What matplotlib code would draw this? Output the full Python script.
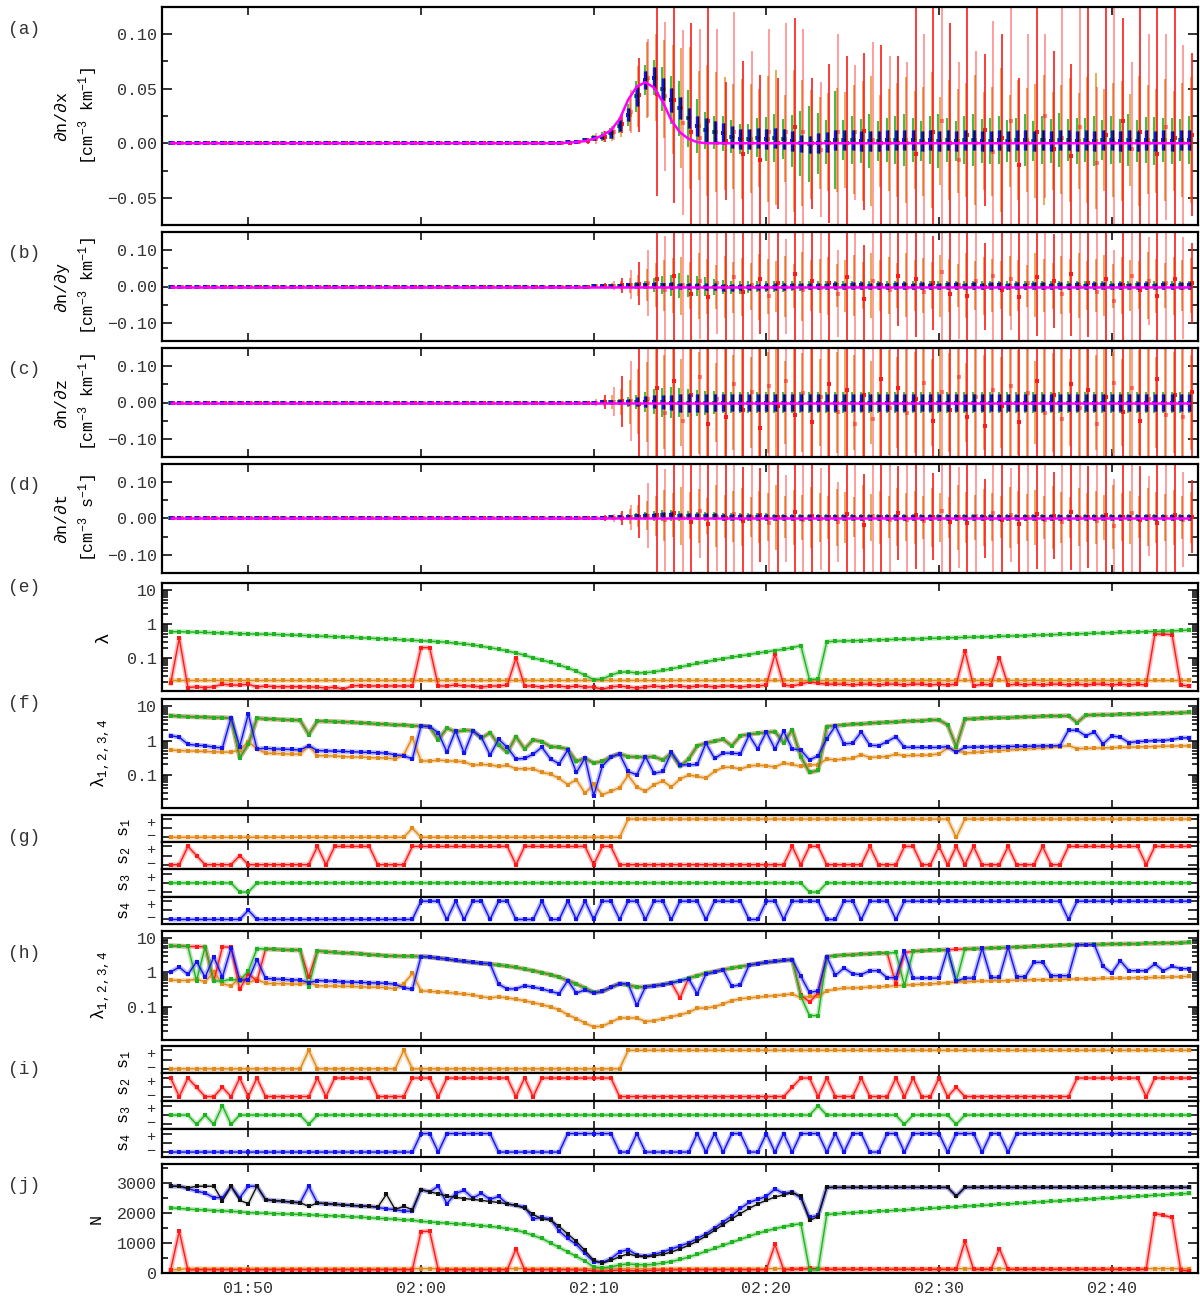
import numpy as np
import matplotlib
matplotlib.use("Agg")
import matplotlib.pyplot as plt
import matplotlib.dates as mdates
from matplotlib.ticker import MultipleLocator, FixedLocator, FuncFormatter, LogLocator, NullFormatter

plt.rcParams["font.family"] = ["Liberation Mono", "DejaVu Sans Mono"]
plt.rcParams["mathtext.fontset"] = "custom"
plt.rcParams["mathtext.rm"] = "Liberation Mono"
plt.rcParams["mathtext.it"] = "Liberation Mono"
plt.rcParams["mathtext.bf"] = "Liberation Mono"
plt.rcParams["font.size"] = 12
plt.rcParams["text.color"] = "#222222"

RED = "#ff1a1a"
ORANGE = "#e08a1a"
GREEN = "#1fb31f"
BLUE = "#1414f0"
BLACK = "#111111"
MAGENTA = "#ff00ff"

# ---- time grid: one sample every 30 s from 01:45:30 ----
t_first = np.datetime64("2000-01-01T01:45:30")
n_pts = 119
times = t_first + np.arange(n_pts) * np.timedelta64(30, "s")
t_lo = np.datetime64("2000-01-01T01:45:00")
t_hi = np.datetime64("2000-01-01T02:45:00")
i_win = 46          # derivative error bars are non-zero from this sample on

# ---- (a)-(d) derivative estimates, samples 46..118, units of 1e-3 ----
dndx_true = [0.5, 1, 2, 4, 7, 12, 22, 40, 52, 56, 51, 38, 21, 10, 4, 1] + [0] * 57
dndx_blue = [1, 1.5, 3, 5, 6, 9, 16, 26, 43, 58,
             60, 50, 40, 32, 23, 16, 12, 10, 9, 6,
             4, 4, 5, 4, 5, 4, 2, 0, -1, 0,
             1, 3, 3, 3, 2, 2, 2, 3, 3, 3,
             3, 2, 3, 2, 3, 2, 3, 3, 2, 2,
             3, 2, 3, 3, 2, 3, 2, 3, 3, 2,
             3, 2, 3, 3, 2, 3, 2, 3, 2, 3,
             2, 3, 3]
dndx_blue_err = [0.5, 0.8, 1.2, 2, 2.5, 4, 5, 6, 9, 8,
                 10, 10, 11, 10, 9, 9, 11, 10, 10, 10,
                 9, 9, 9, 9, 9, 9, 9, 8, 8, 9,
                 9, 9, 9, 9, 9, 9, 9, 9, 9, 9] + [9] * 33
dndx_green_err = [0.5, 1, 2, 3, 4, 5, 7, 10, 14, 14,
                  16, 20, 22, 25, 26, 25, 17, 15, 16, 15,
                  14, 14, 18, 20, 22, 18, 24, 30, 35, 28,
                  20, 45, 18, 22, 20, 25, 18, 20, 22, 24,
                  20, 18, 22, 25, 20, 18, 22, 24, 20, 21,
                  22, 19, 20, 24, 18, 22, 20, 25, 19, 21,
                  20, 23, 18, 22, 20, 24, 19, 21, 22, 20,
                  21, 19, 22]
dndx_orange_err = [0.5, 1, 2, 3, 5, 7, 10, 15, 28, 35,
                   40, 45, 50, 55, 65, 50, 60, 55, 52, 48,
                   55, 50, 45, 58, 62, 40, 65, 58, 50, 42,
                   45, 48, 44, 50, 55, 60, 42, 47, 52, 58,
                   45, 50, 62, 40, 55, 48, 52, 60, 45, 50,
                   66, 42, 55, 48, 52, 60, 45, 50, 57, 44,
                   58, 62, 47, 52, 55, 42, 60, 50, 48, 56,
                   46, 52, 58]
dndx_red = [0, 1, 2, 4, 6, 10, 18, 29, 44, 60,
            45, 43, 40, 19, 10, 5, 20, 0, 2, 10,
            -10, 0, -15, 10, 0, 10, 15, 10, 0, -6,
            0, 10, 0, 10, 11, 3, 0, 0, 0, 0,
            -10, 0, 10, 20, 0, -15, 8, 0, 12, -8,
            5, 20, -20, 0, 10, 25, -5, 5, -12, 15,
            0, -18, 8, 0, 20, -5, 10, 0, -10, 15,
            5, 0, 8]
dndx_red_err = [1, 1.5, 3, 5, 5, 7, 9, 20, 34, 36,
                93, 68, 95, 85, 100, 100, 150, 105, 54, 110,
                85, 85, 78, 95, 60, 100, 100, 95, 60, 62,
                73, 90, 80, 62, 72, 90, 90, 80, 80, 75,
                150, 100, 120, 150, 110, 90, 140, 85, 70, 120,
                95, 150, 80, 100, 130, 75, 90, 150, 85, 110,
                150, 70, 120, 150, 95, 80, 150, 100, 150, 85,
                120, 90, 75]

dndy_true = [0] * 73
dndy_blue = [0, 0, 0, 1, 1, 2, 2, 3, 3, 4,
             4, 3, 3, 2, 2, 1, 0, -1, -2, -2,
             -2, -1, -1, 0, 0, 0, 1, 1, 2, 2,
             2, 3, 2, 3, 3, 2, 3, 2, 3, 3,
             2, 3, 2, 2, 3, 3, 2, 3, 2, 3,
             3, 2, 3, 2, 3, 3, 2, 3, 2, 3,
             2, 3, 3, 2, 3, 2, 3, 3, 2, 3,
             2, 3, 3]
dndy_blue_err = [0.5, 0.5, 1, 1.5, 2, 3, 4, 5, 6, 7,
                 8, 8, 9, 9, 9, 9, 10, 10, 10, 10] + [9] * 53
dndy_green_err = [0.5, 1, 1.5, 2, 3, 4, 6, 8, 10, 12,
                  20, 25, 30, 35, 30, 28, 25, 22, 20, 18,
                  18, 16, 15, 15, 14, 14, 13, 13, 13, 13] + [12] * 43
dndy_orange_err = [1, 1, 2, 3, 5, 8, 12, 20, 30, 45,
                   60, 70, 75, 80, 65, 90, 75, 60, 85, 70,
                   80, 65, 90, 75, 70, 85, 60, 95, 70, 75,
                   80, 60, 72, 85, 65, 90, 70, 78, 62, 88,
                   70, 75, 65, 85, 72, 60, 90, 68, 80, 74,
                   66, 82, 70, 58, 88, 72, 64, 80, 75, 90,
                   68, 72, 85, 60, 78, 70, 66, 92, 74, 62,
                   80, 70, 75]
dndy_red = [0, 0, 0, 1, 1, 2, 3, 5, 8, 10,
            20, -10, 30, 5, -20, 15, -30, 10, 0, 25,
            -15, 5, 20, -25, 10, 0, 35, -10, 15, -5,
            10, -20, 25, 0, -35, 15, 5, -10, 30, -5,
            20, -15, 10, 40, -20, 5, -25, 15, 0, 30,
            -10, 20, -30, 10, 25, -5, 15, -20, 35, 0,
            10, -15, 20, -40, 5, 30, -10, 15, -25, 10,
            20, -5, 10]
dndy_red_err = [1, 2, 3, 5, 8, 12, 20, 40, 60, 90,
                200, 150, 250, 180, 300, 160, 220, 140, 260, 190,
                170, 230, 150, 280, 200, 130, 240, 180, 210, 160,
                250, 120, 190, 270, 150, 220, 175, 300, 140, 200,
                160, 240, 130, 210, 280, 150, 190, 230, 120, 260,
                180, 140, 250, 200, 160, 290, 130, 220, 170, 240,
                150, 210, 280, 140, 190, 230, 160, 120, 260, 180,
                200, 140, 110]

dndz_true = [0] * 73
dndz_blue = [0, 0, 0, 0, 1, 1, 1, 2, 2, 2,
             2, 1, 0, -1, -2, -2, -1, 0, 0, 0] + [0] * 53
dndz_blue_err = [0.5, 1, 1.5, 2, 3, 4, 6, 9, 12, 15,
                 18, 20, 22, 24, 25, 25, 24, 24, 24, 24] + [23] * 53
dndz_green_err = [0.5, 1, 2, 3, 4, 6, 9, 14, 20, 28,
                  35, 40, 42, 40, 38, 36, 34, 32, 30, 30] + [28] * 53
dndz_orange_err = [1, 2, 3, 5, 10, 20, 35, 60, 90, 110,
                   150, 130, 170, 120, 160, 140, 180, 110, 150, 130,
                   170, 125, 160, 140, 190, 115, 150, 135, 175, 120,
                   160, 140, 180, 130, 155, 115, 170, 145, 125, 165,
                   140, 185, 120, 160, 135, 175, 110, 150, 130, 170,
                   125, 160, 145, 180, 115, 155, 135, 170, 120, 150,
                   165, 130, 175, 140, 120, 160, 145, 185, 125, 155,
                   140, 170, 130]
dndz_red = [0, 0, 0, 0, 1, 2, 3, 5, -5, 10,
            40, -30, 60, -50, 20, 70, -60, 10, -40, 50,
            -20, 30, -70, 45, -10, 60, -35, 25, -55, 15,
            50, -25, 35, -60, 20, -45, 65, -15, 40, -30,
            10, 55, -50, 30, -20, 70, -40, 15, -65, 35,
            -10, 45, -55, 25, 60, -30, 20, -45, 50, -15,
            35, -60, 15, 55, -25, 40, -50, 10, 65, -35,
            20, -40, 30]
dndz_red_err = [2, 3, 5, 10, 20, 40, 70, 110, 160, 200,
                300, 250, 350, 280, 320, 260, 340, 240, 300, 270,
                330, 250, 290, 360, 270, 310, 240, 350, 280, 300,
                260, 340, 290, 250, 370, 280, 310, 240, 330, 270,
                300, 260, 350, 280, 240, 320, 290, 360, 250, 310,
                270, 340, 260, 300, 280, 350, 240, 320, 290, 260,
                310, 280, 340, 250, 300, 270, 360, 240, 320, 290,
                260, 300, 280]

dndt_true = [0] * 73
dndt_blue = [0, 0, 1, 1, 2, 3, 4, 5, 6, 7,
             8, 9, 9, 8, 8, 7, 6, 6, 5, 5,
             5, 4, 4, 4, 3, 3, 3, 3, 3, 3] + [3] * 43
dndt_blue_err = [0.5, 0.5, 1, 1.5, 2, 3, 4, 5, 6, 7] + [8] * 63
dndt_green_err = [0.5, 1, 1.5, 2, 3, 4, 6, 8, 10, 12,
                  14, 15, 15, 14, 13, 12, 12, 11, 11, 11] + [10] * 53
dndt_orange_err = [1, 1, 2, 3, 5, 8, 12, 20, 30, 40,
                   55, 70, 60, 80, 65, 75, 50, 85, 60, 70,
                   80, 55, 72, 65, 90, 58, 75, 62, 85, 68,
                   60, 78, 70, 55, 88, 64, 72, 58, 80, 66,
                   74, 60, 82, 68, 56, 90, 70, 62, 78, 66,
                   58, 84, 72, 64, 76, 60, 86, 70, 56, 80,
                   68, 74, 62, 88, 66, 72, 58, 80, 70, 64,
                   76, 60, 70]
dndt_red = [0, 0, 0, 0, 1, 1, 2, 3, 5, 8,
            10, -5, 15, 0, -10, 20, -15, 5, 0, 12,
            -8, 3, 10, -12, 5, 0, 18, -5, 8, -2,
            5, -10, 12, 0, -18, 8, 3, -5, 15, -3,
            10, -8, 5, 20, -10, 3, -12, 8, 0, 15,
            -5, 10, -15, 5, 12, -3, 8, -10, 18, 0,
            5, -8, 10, -20, 3, 15, -5, 8, -12, 5,
            10, -3, 5]
dndt_red_err = [1, 2, 3, 5, 8, 12, 20, 35, 60, 90,
                180, 140, 220, 160, 250, 130, 200, 150, 230, 170,
                150, 210, 130, 240, 180, 120, 220, 160, 190, 140,
                230, 110, 170, 250, 140, 200, 160, 270, 130, 180,
                150, 220, 120, 190, 260, 140, 170, 210, 110, 240,
                160, 130, 230, 180, 150, 260, 120, 200, 160, 220,
                140, 190, 250, 130, 170, 210, 150, 110, 240, 160,
                180, 130, 100]

# ---- (e) eigenvalues lambda ----
e_green = [0.59, 0.59, 0.58, 0.57, 0.56, 0.55, 0.54, 0.53, 0.52, 0.51,
           0.50, 0.50, 0.49, 0.48, 0.47, 0.46, 0.45, 0.44, 0.43, 0.42,
           0.41, 0.40, 0.39, 0.38, 0.37, 0.36, 0.35, 0.34, 0.33, 0.32,
           0.31, 0.30, 0.29, 0.27, 0.26, 0.24, 0.22, 0.20, 0.18, 0.16,
           0.14, 0.12, 0.10, 0.087, 0.074, 0.062, 0.051, 0.041, 0.031, 0.023,
           0.024, 0.031, 0.038, 0.039, 0.036, 0.037, 0.039, 0.043, 0.048, 0.054,
           0.061, 0.069, 0.077, 0.086, 0.095, 0.105, 0.115, 0.125, 0.14, 0.15,
           0.165, 0.18, 0.20, 0.23, 0.023, 0.024, 0.30, 0.31, 0.315, 0.32,
           0.325, 0.33, 0.34, 0.345, 0.35, 0.355, 0.36, 0.37, 0.375, 0.38,
           0.39, 0.395, 0.40, 0.41, 0.415, 0.42, 0.43, 0.44, 0.445, 0.45,
           0.46, 0.47, 0.48, 0.49, 0.50, 0.51, 0.52, 0.53, 0.54, 0.55,
           0.56, 0.57, 0.58, 0.59, 0.60, 0.61, 0.62, 0.64, 0.66]
e_red = [0.018, 0.38, 0.0134, 0.0143, 0.0134, 0.0143, 0.017, 0.016, 0.016, 0.017,
         0.014, 0.015, 0.0143, 0.0143, 0.0143, 0.0143, 0.014, 0.014, 0.013, 0.014,
         0.012, 0.015, 0.0155, 0.015, 0.015, 0.015, 0.015, 0.015, 0.015, 0.2,
         0.2, 0.015, 0.015, 0.016, 0.015, 0.015, 0.014, 0.015, 0.015, 0.016,
         0.1, 0.015, 0.015, 0.014, 0.015, 0.015, 0.014, 0.015, 0.014, 0.014,
         0.012, 0.014, 0.015, 0.014, 0.013, 0.014, 0.015, 0.014, 0.015, 0.015,
         0.014, 0.015, 0.015, 0.014, 0.015, 0.015, 0.014, 0.015, 0.015, 0.016,
         0.13, 0.016, 0.015, 0.017, 0.02, 0.018, 0.017, 0.017, 0.017, 0.016,
         0.017, 0.017, 0.016, 0.017, 0.017, 0.016, 0.017, 0.017, 0.016, 0.017,
         0.016, 0.017, 0.16, 0.015, 0.017, 0.016, 0.10, 0.016, 0.017, 0.016,
         0.017, 0.016, 0.017, 0.017, 0.016, 0.017, 0.016, 0.017, 0.017, 0.016,
         0.017, 0.016, 0.017, 0.016, 0.5, 0.5, 0.48, 0.016, 0.015]
e_orange = [0.0225] * n_pts

# ---- (f) lambda_1..4, first method ----
f_green = [5.35, 5.1, 5.0, 4.9, 4.8, 4.7, 4.7, 4.5, 0.32, 0.78,
           4.5, 4.3, 4.2, 4.1, 4.0, 3.9, 1.5, 3.7, 3.65, 3.6,
           3.5, 3.4, 3.3, 3.2, 3.05, 3.0, 2.86, 2.86, 2.7, 2.67,
           2.56, 1.05, 2.3, 1.8, 2.0, 1.95, 1.17, 1.7, 0.75, 0.45,
           1.3, 0.57, 1.05, 0.93, 0.67, 0.64, 0.56, 0.245, 0.31, 0.22,
           0.245, 0.34, 0.41, 0.34, 0.33, 0.33, 0.34, 0.27, 0.43, 0.175,
           0.29, 0.70, 0.84, 0.96, 1.09, 0.70, 1.37, 1.53, 1.63, 1.75,
           1.83, 0.87, 2.04, 0.34, 0.117, 0.134, 2.56, 2.73, 2.86, 3.0,
           3.07, 3.2, 3.35, 3.4, 3.5, 3.66, 3.74, 3.8, 4.0, 4.0,
           2.86, 0.67, 4.27, 4.37, 4.47, 4.6, 4.67, 4.67, 4.78, 4.9,
           5.0, 5.1, 5.2, 5.2, 5.35, 3.35, 5.5, 5.6, 5.7, 5.7,
           5.85, 5.85, 6.0, 6.1, 6.25, 6.25, 6.4, 6.5, 6.7]
f_red = f_green
f_blue = [1.4, 1.25, 0.78, 0.73, 0.71, 0.64, 0.61, 4.7, 0.67, 6.0,
          0.57, 0.6, 0.57, 0.56, 0.55, 0.53, 0.71, 0.51, 0.50, 0.49,
          0.48, 0.47, 0.46, 0.45, 0.44, 0.43, 0.38, 0.36, 0.29, 2.67,
          2.56, 1.7, 0.46, 1.95, 0.43, 1.9, 1.25, 0.38, 1.09, 0.63,
          0.29, 0.30, 0.40, 0.64, 0.29, 0.21, 0.53, 0.117, 0.31, 0.0245,
          0.18, 0.33, 0.41, 0.125, 0.10, 0.34, 0.11, 0.125, 0.45, 0.195,
          0.195, 0.20, 0.84, 0.30, 0.43, 0.43, 0.41, 1.43, 0.57, 1.79,
          0.57, 1.87, 0.57, 0.53, 0.27, 0.36, 1.14, 2.67, 0.80, 0.84,
          1.79, 0.73, 0.71, 0.93, 1.3, 0.64, 0.63, 0.63, 0.63, 0.63,
          0.67, 0.45, 0.64, 0.64, 0.65, 0.65, 0.66, 0.67, 0.68, 0.68,
          0.69, 0.70, 0.70, 0.71, 2.0, 2.0, 1.37, 1.79, 0.80, 1.37,
          1.25, 0.87, 0.93, 0.96, 1.0, 1.0, 1.07, 1.2, 1.2]
f_orange = [0.53, 0.51, 0.50, 0.49, 0.48, 0.47, 0.46, 0.46, 0.53, 0.93,
            0.57, 0.43, 0.42, 0.41, 0.40, 0.40, 0.71, 0.365, 0.36, 0.35,
            0.34, 0.33, 0.33, 0.32, 0.31, 0.31, 0.29, 0.38, 1.22, 0.256,
            0.25, 0.27, 0.256, 0.25, 0.24, 0.19, 0.20, 0.195, 0.175, 0.19,
            0.15, 0.15, 0.15, 0.117, 0.105, 0.078, 0.052, 0.071, 0.029, 0.053,
            0.026, 0.033, 0.042, 0.096, 0.044, 0.033, 0.051, 0.066, 0.044, 0.075,
            0.098, 0.09, 0.08, 0.125, 0.164, 0.167, 0.146, 0.18, 0.19, 0.183,
            0.167, 0.22, 0.20, 0.175, 0.195, 0.195, 0.29, 0.27, 0.29, 0.30,
            0.39, 0.32, 0.33, 0.34, 0.40, 0.36, 0.37, 0.37, 0.38, 0.41,
            0.60, 0.53, 0.43, 0.45, 0.47, 0.49, 0.51, 0.53, 0.55, 0.57,
            0.59, 0.61, 0.63, 0.66, 0.72, 0.58, 0.59, 0.60, 0.61, 0.62,
            0.63, 0.64, 0.65, 0.66, 0.67, 0.68, 0.69, 0.70, 0.70]

# ---- (g) signs s1..s4, first method ('+' = 1, '0' = 0, '-' = -1) ----
g_s1 = "-" * 28 + "0" + "-" * 24 + "+" * 38 + "-" + "+" * 27
g_s2 = ("--+0----0-" "-------+-+" "++++----++" "++++++++++" "-++++++++-"
        "++--------" "----------" "--+-++----" "-+---++--+" "-+-+---+--"
        "-+--++++++" "+++-+++++")
g_s3 = "0" * 8 + "--" + "0" * 64 + "--" + "0" * 43
g_s4 = ("---------0" "----------" "---------+" "++-+-++-++" "---+--+-+-"
        "++-++-++-+" "++-++++--+" "+-++++--++" "-+++-+++++" "++++++++++"
        "++++-+++++" "+++++++++")

# ---- (h) lambda_1..4, second method ----
h_green = [6.0, 5.85, 5.7, 0.58, 5.6, 0.56, 0.56, 0.63, 0.58, 1.09,
           4.9, 4.8, 4.7, 4.6, 4.5, 4.5, 0.37, 4.2, 4.0, 3.8,
           3.7, 3.6, 3.5, 3.3, 3.2, 3.06, 3.0, 2.95, 2.93, 2.9,
           2.8, 2.6, 2.45, 2.24, 2.09, 1.96, 1.83, 1.75, 1.64, 1.53,
           1.4, 1.25, 1.12, 0.98, 0.86, 0.73, 0.58, 0.46, 0.35, 0.26,
           0.28, 0.367, 0.468, 0.43, 0.37, 0.38, 0.41, 0.44, 0.50, 0.57,
           0.68, 0.80, 0.955, 1.05, 1.2, 1.34, 1.46, 1.63, 1.79, 1.96,
           2.09, 2.24, 2.34, 0.2, 0.055, 0.055, 2.86, 3.06, 3.2, 3.27,
           3.4, 3.5, 3.6, 3.65, 3.8, 0.41, 4.1, 4.27, 4.37, 4.47,
           4.57, 0.55, 4.8, 4.9, 5.0, 5.1, 5.2, 5.35, 5.45, 5.6,
           5.7, 5.85, 6.0, 6.1, 6.25, 6.4, 6.4, 6.5, 6.5, 6.7,
           6.7, 6.8, 6.8, 7.0, 7.0, 7.1, 7.1, 7.3, 7.5]
# red coincides with green apart from these samples
h_red_dev = {3: 5.65, 5: 0.56, 6: 5.5, 7: 5.4, 8: 0.32, 9: 0.91, 10: 0.56,
             16: 0.73, 59: 0.18, 73: 0.22, 74: 0.137, 75: 0.25,
             84: 0.46, 85: 3.8, 91: 4.7}
h_blue = [1.02, 1.43, 0.87, 2.04, 0.73, 2.8, 0.73, 5.2, 0.6, 0.6,
          2.34, 0.67, 0.64, 0.63, 0.6, 0.6, 0.5, 0.58, 0.56, 0.55,
          0.53, 0.52, 0.51, 0.5, 0.49, 0.48, 0.45, 0.36, 0.32, 2.9,
          2.8, 2.6, 2.45, 2.24, 2.09, 1.96, 1.85, 1.8, 0.45, 0.33,
          0.33, 0.41, 0.37, 0.33, 0.28, 0.24, 0.58, 0.25, 0.31, 0.25,
          0.28, 0.367, 0.468, 0.46, 0.11, 0.38, 0.40, 0.44, 0.49, 0.57,
          0.65, 0.24, 0.89, 1.02, 1.2, 0.39, 0.44, 1.63, 1.79, 1.96,
          2.09, 2.24, 2.34, 0.76, 0.26, 0.29, 2.86, 0.82, 1.34, 0.91,
          0.86, 1.12, 1.12, 0.70, 0.70, 4.1, 0.68, 0.68, 0.68, 0.68,
          4.57, 0.55, 0.68, 0.68, 5.1, 0.71, 0.71, 5.45, 0.75, 0.75,
          1.96, 1.96, 0.8, 0.8, 0.8, 6.4, 6.4, 6.4, 1.5, 0.955,
          2.18, 1.12, 1.12, 1.12, 1.75, 1.12, 1.5, 1.28, 1.28]
h_orange = [0.6, 0.58, 0.58, 0.63, 0.53, 1.05, 0.47, 0.4, 0.7, 0.5,
            0.63, 0.48, 0.47, 0.47, 0.46, 0.45, 0.5, 0.41, 0.4, 0.4,
            0.39, 0.39, 0.38, 0.37, 0.37, 0.36, 0.33, 0.47, 0.93, 0.29,
            0.28, 0.27, 0.26, 0.245, 0.235, 0.22, 0.195, 0.18, 0.195, 0.18,
            0.165, 0.15, 0.13, 0.115, 0.098, 0.082, 0.058, 0.045, 0.033, 0.026,
            0.027, 0.035, 0.047, 0.047, 0.047, 0.037, 0.039, 0.045, 0.051, 0.058,
            0.068, 0.091, 0.091, 0.10, 0.12, 0.15, 0.17, 0.18, 0.19, 0.2,
            0.21, 0.22, 0.235, 0.18, 0.2, 0.2, 0.29, 0.32, 0.35, 0.35,
            0.36, 0.37, 0.38, 0.39, 0.41, 0.42, 0.44, 0.45, 0.46, 0.48,
            0.5, 0.53, 0.53, 0.55, 0.56, 0.57, 0.57, 0.58, 0.6, 0.6,
            0.61, 0.61, 0.62, 0.62, 0.64, 0.64, 0.65, 0.65, 0.67, 0.67,
            0.68, 0.68, 0.7, 0.7, 0.71, 0.71, 0.73, 0.75, 0.76]

# ---- (i) signs, second method ----
i_s1 = "-" * 16 + "+" + "-" * 10 + "+" + "-" * 25 + "+" * 66
i_s2 = ("+-+0--0-+-" "+------+-+" "++++----++" "+-++++++++" "-+-+++++++"
        "++--------" "----------" "--0++-+---" "+---+-+--+" "-0--------"
        "-----+++++" "+++-+++++")
i_s3 = ("000-0-+-00" "000000-000" + "0" * 50 + "00000+0000" "00000-0000"
        "0-00000000" + "0" * 19)
i_s4 = ("-" * 29 + "++-++++++--" "------++++" "++--+-----" "-+-+-++--+"
        "-+-+++-+-+" "+--++-++++" "-+++-++-++" + "+" * 19)

# ---- (j) N ----
j_black = [2890, 2890, 2830, 2890, 2890, 2890, 2400, 2890, 2420, 2310,
           2890, 2440, 2410, 2390, 2360, 2340, 2220, 2330, 2310, 2290,
           2270, 2250, 2230, 2220, 2200, 2620, 2120, 2220, 2110, 2780,
           2700, 2640, 2560, 2520, 2480, 2450, 2420, 2380, 2350, 2300,
           2250, 2150, 1950, 1800, 1760, 1550, 1300, 1050, 750, 420,
           330, 420, 540, 640, 560, 540, 570, 620, 700, 800,
           920, 1060, 1230, 1420, 1610, 1800, 1980, 2150, 2300, 2420,
           2530, 2600, 2680, 2550, 1750, 1880] + [2850] * 15 + [2560] + [2850] * 27
j_blue = [2890, 2890, 2810, 2730, 2660, 2510, 2510, 2890, 2510, 2890,
          2890, 2440, 2410, 2390, 2360, 2340, 2890, 2330, 2310, 2290,
          2270, 2250, 2230, 2220, 2180, 2140, 2110, 2060, 2060, 2780,
          2700, 2890, 2310, 2650, 2750, 2500, 2650, 2450, 2550, 2300,
          2250, 2200, 1800, 1850, 1800, 1400, 1150, 950, 650, 380,
          350, 480, 700, 780, 600, 560, 620, 700, 800, 900,
          1000, 1150, 1300, 1500, 1700, 1900, 2150, 2350, 2450, 2550,
          2800, 2650, 2700, 2500, 1850, 1920] + [2850] * 15 + [2560] + [2850] * 27
j_green = [2170, 2150, 2130, 2110, 2100, 2080, 2070, 2050, 2040, 2010,
           2000, 1990, 1980, 1970, 1960, 1950, 1940, 1920, 1910, 1900,
           1890, 1870, 1860, 1840, 1820, 1810, 1790, 1770, 1760, 1720,
           1700, 1680, 1660, 1640, 1620, 1600, 1580, 1550, 1520, 1480,
           1430, 1350, 1250, 1150, 1000, 850, 700, 550, 400, 200,
           170, 200, 270, 300, 280, 270, 290, 330, 380, 450,
           530, 620, 720, 820, 920, 1020, 1120, 1220, 1320, 1400,
           1480, 1540, 1600, 1640, 100, 120, 1950, 1970, 1990, 2010,
           2020, 2040, 2060, 2070, 2090, 2100, 2120, 2140, 2150, 2170,
           2190, 2200, 2220, 2240, 2250, 2270, 2290, 2300, 2320, 2340,
           2350, 2370, 2390, 2400, 2420, 2440, 2450, 2470, 2490, 2500,
           2520, 2540, 2550, 2570, 2590, 2600, 2620, 2640, 2650]
j_red = [100, 1390, 100, 110, 110, 110, 110, 110, 110, 110,
         110, 110, 110, 110, 110, 110, 110, 110, 110, 110,
         110, 110, 110, 110, 110, 110, 110, 110, 110, 1380,
         1390, 110, 110, 110, 110, 110, 110, 110, 110, 110,
         800, 110, 110, 110, 110, 110, 110, 100, 100, 70,
         60, 80, 90, 80, 70, 80, 90, 100, 100, 110,
         110, 110, 110, 110, 110, 110, 110, 110, 110, 110,
         950, 110, 120, 130, 150, 140, 120, 120, 120, 120,
         120, 120, 120, 120, 120, 120, 120, 120, 120, 120,
         120, 120, 1050, 120, 120, 120, 800, 120, 120, 120,
         120, 120, 120, 120, 120, 120, 120, 120, 120, 120,
         120, 120, 120, 120, 1980, 1920, 1850, 100, 60]
j_orange = [100, 120] + [145] * 117

panel_letters = ["(a)", "(b)", "(c)", "(d)", "(e)", "(f)", "(g)", "(h)", "(i)", "(j)"]
letter_y_px = [29, 253, 369, 486, 587, 703, 837, 953, 1069, 1185]

SIGN = {"+": 1, "0": 0, "-": -1}


def signs(s):
    return np.array([SIGN[c] for c in s])


W, H = 1200, 1297
fig = plt.figure(figsize=(W / 100, H / 100), dpi=100)
x = mdates.date2num(times)
x_lo, x_hi = mdates.date2num(t_lo), mdates.date2num(t_hi)
sec = 1.0 / 86400


def panel(top, bot):
    ax = fig.add_axes([162 / W, 1 - bot / H, 1036 / W, (bot - top) / H])
    ax.set_xlim(x_lo, x_hi)
    ax.xaxis.set_major_locator(mdates.MinuteLocator(byminute=range(0, 60, 10)))
    ax.xaxis.set_major_formatter(mdates.DateFormatter("%H:%M"))
    ax.tick_params(which="both", direction="in", top=True, right=True, width=1.2,
                   color="#111111", labelbottom=False, labelsize=12, labelcolor="#333333")
    ax.tick_params(axis="x", length=6, pad=6)
    ax.tick_params(axis="y", which="major", length=7)
    ax.tick_params(axis="y", which="minor", length=4.5)
    for sp in ax.spines.values():
        sp.set_linewidth(1.6)
    return ax


def trace(ax, y, color, z=2, halo=0.3):
    ax.plot(x, y, color=color, lw=3.4, alpha=halo, zorder=z)
    ax.plot(x, y, color=color, lw=1.0, marker="s", ms=2.4, mew=0, zorder=z + 0.1)


def dec_fmt(v, pos):
    return f"{v:.2f}".replace("-", "\u2212")


def deriv_panel(ax, true_w, blue_w, blue_err_w, green_err_w, orange_err_w, red_w, red_err_w, lim):
    pre = np.zeros(i_win)

    def full(w):
        return np.concatenate([pre, np.asarray(w, float)]) * 1e-3

    true, blue = full(true_w), full(blue_w)
    red, red_err = full(red_w), full(red_err_w)
    kw = dict(fmt="s", ms=2.2, mew=0, capsize=1.6, elinewidth=1.2, capthick=1.2)
    ax.errorbar(x + 5 * sec, blue, yerr=full(orange_err_w), color=ORANGE, alpha=0.85, zorder=2, **kw)
    for k, a in ((0, 1.0), (1, 0.5)):
        ax.errorbar(x[k::2] + 9 * sec, red[k::2], yerr=red_err[k::2], color=RED, alpha=a,
                    zorder=2.5, **kw)
    ax.errorbar(x - 2 * sec, blue, yerr=full(green_err_w), color=GREEN, zorder=3, **kw)
    ax.errorbar(x, blue, yerr=full(blue_err_w), color=BLUE, fmt="s", ms=2.6, mew=0,
                capsize=2.0, elinewidth=2.4, capthick=1.6, zorder=4)
    ax.errorbar(x + 3 * sec, blue, yerr=full(blue_err_w), color=BLACK, fmt="s", ms=2.0, mew=0,
                capsize=1.2, elinewidth=1.0, capthick=1.0, zorder=4.5)
    ax.plot(x, true, color=MAGENTA, lw=1.8, zorder=6)
    ax.set_ylim(*lim)
    ax.yaxis.set_major_formatter(FuncFormatter(dec_fmt))


def log_axis(ax):
    ax.set_yscale("log")
    ax.set_ylim(0.0107, 16.4)
    ax.yaxis.set_major_locator(FixedLocator([0.1, 1, 10]))
    ax.yaxis.set_major_formatter(FuncFormatter(lambda v, p: f"{v:g}"))
    ax.yaxis.set_minor_locator(LogLocator(base=10, subs=np.arange(2, 10), numticks=20))
    ax.yaxis.set_minor_formatter(NullFormatter())


def sign_block(top, bot, series, colors):
    h = (bot - top) / 4
    for k, (s, c) in enumerate(zip(series, colors)):
        ax = panel(top + k * h, top + (k + 1) * h)
        trace(ax, signs(s), c)
        ax.set_ylim(-1.5, 1.5)
        ax.yaxis.set_major_locator(FixedLocator([-1, 0, 1]))
        ax.yaxis.set_major_formatter(NullFormatter())
        # '+' / '-' marks kept inside each strip so neighbouring strips do not collide
        ax.text(-0.006, 0.99, "$+$", transform=ax.transAxes, ha="right", va="top",
                fontsize=11, color="#333333")
        ax.text(-0.006, 0.02, "$-$", transform=ax.transAxes, ha="right", va="bottom",
                fontsize=11, color="#333333")
        ax.set_ylabel(f"s$_{k + 1}$", fontsize=12)
        ax.yaxis.set_label_coords(-0.028, 0.5)


# (a)-(d)
ax_a = panel(7, 225)
deriv_panel(ax_a, dndx_true, dndx_blue, dndx_blue_err, dndx_green_err, dndx_orange_err,
            dndx_red, dndx_red_err, (-0.075, 0.125))
ax_a.yaxis.set_major_locator(FixedLocator([-0.05, 0.0, 0.05, 0.10]))
ax_a.yaxis.set_minor_locator(MultipleLocator(0.025))
ax_a.set_ylabel("\u2202n/\u2202x\n[cm$^{-3}$ km$^{-1}$]", linespacing=1.4)

deriv_rows = [
    ((232, 341), dndy_true, dndy_blue, dndy_blue_err, dndy_green_err, dndy_orange_err, dndy_red, dndy_red_err,
     "\u2202n/\u2202y\n[cm$^{-3}$ km$^{-1}$]"),
    ((348, 457), dndz_true, dndz_blue, dndz_blue_err, dndz_green_err, dndz_orange_err, dndz_red, dndz_red_err,
     "\u2202n/\u2202z\n[cm$^{-3}$ km$^{-1}$]"),
    ((464, 573), dndt_true, dndt_blue, dndt_blue_err, dndt_green_err, dndt_orange_err, dndt_red, dndt_red_err,
     "\u2202n/\u2202t\n[cm$^{-3}$ s$^{-1}$]"),
]
deriv_axes = [ax_a]
for (top, bot), tr, bl, ble, gre, ore, rd, rde, lab in deriv_rows:
    ax = panel(top, bot)
    deriv_panel(ax, tr, bl, ble, gre, ore, rd, rde, (-0.15, 0.15))
    ax.yaxis.set_major_locator(FixedLocator([-0.10, 0.0, 0.10]))
    ax.yaxis.set_minor_locator(MultipleLocator(0.05))
    ax.set_ylabel(lab, linespacing=1.4)
    deriv_axes.append(ax)
for ax in deriv_axes:
    ax.yaxis.set_label_coords(-0.060, 0.5)

# (e)
ax_e = panel(582.5, 691)
log_axis(ax_e)
trace(ax_e, e_orange, ORANGE)
trace(ax_e, e_red, RED)
trace(ax_e, e_green, GREEN)
ax_e.set_ylabel("\u03bb", fontsize=14)
ax_e.yaxis.set_label_coords(-0.048, 0.5)

# (f)
ax_f = panel(699, 808)
log_axis(ax_f)
trace(ax_f, f_orange, ORANGE)
trace(ax_f, f_red, RED)
trace(ax_f, f_green, GREEN)
trace(ax_f, f_blue, BLUE)
ax_f.set_ylabel("\u03bb$_{1,2,3,4}$", fontsize=13)
ax_f.yaxis.set_label_coords(-0.049, 0.5)

# (g)
sign_block(814.5, 924, [g_s1, g_s2, g_s3, g_s4], [ORANGE, RED, GREEN, BLUE])

# (h)
h_red = list(h_green)
for k, v in h_red_dev.items():
    h_red[k] = v
ax_h = panel(930.7, 1040)
log_axis(ax_h)
trace(ax_h, h_orange, ORANGE)
trace(ax_h, h_red, RED)
trace(ax_h, h_green, GREEN)
trace(ax_h, h_blue, BLUE)
ax_h.set_ylabel("\u03bb$_{1,2,3,4}$", fontsize=13)
ax_h.yaxis.set_label_coords(-0.049, 0.5)

# (i)
sign_block(1045.7, 1156.7, [i_s1, i_s2, i_s3, i_s4], [ORANGE, RED, GREEN, BLUE])

# (j)
ax_j = panel(1164, 1273)
trace(ax_j, j_orange, ORANGE)
trace(ax_j, j_red, RED)
trace(ax_j, j_green, GREEN)
trace(ax_j, j_blue, BLUE)
trace(ax_j, j_black, BLACK, halo=0.12)
ax_j.set_ylim(0, 3630)
ax_j.yaxis.set_major_locator(FixedLocator([0, 1000, 2000, 3000]))
ax_j.yaxis.set_minor_locator(MultipleLocator(500))
ax_j.set_ylabel("N")
ax_j.yaxis.set_label_coords(-0.056, 0.5)
ax_j.tick_params(axis="x", labelbottom=True)

for lab, ypx in zip(panel_letters, letter_y_px):
    fig.text(8 / W, 1 - ypx / H, lab, ha="left", va="center", fontsize=13, color="#333333")

fig.savefig("out.png", dpi=100)
